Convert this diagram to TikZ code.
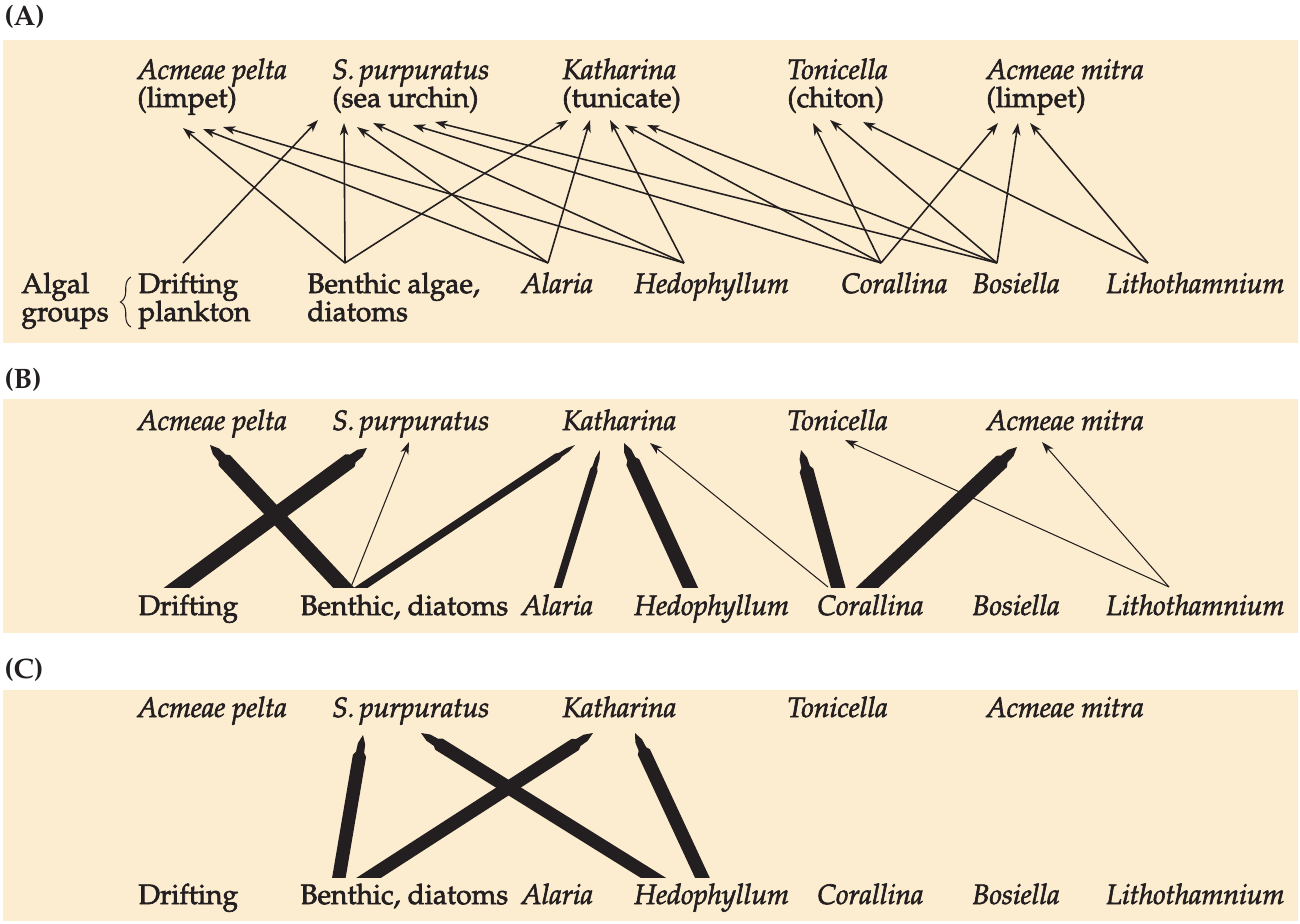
\documentclass[tikz,border=0pt]{standalone}
\usepackage[T1]{fontenc}
\usepackage{mathpazo}
\usetikzlibrary{arrows.meta,calc,decorations.pathreplacing}

\definecolor{panelbg}{RGB}{253,237,208}
\definecolor{ink}{RGB}{35,31,32}

\newcommand{\heavy}{\special{pdf:literal direct 2 Tr 0.35 w}}

\tikzset{
  lbl/.style={anchor=base west,inner sep=0pt,text=ink,font=\fontsize{16}{16}\selectfont\heavy},
  sp/.style={lbl,font=\fontsize{16}{16}\selectfont\itshape\heavy},
  tag/.style={lbl,font=\fontsize{16}{16}\selectfont\bfseries},
  feed/.style={draw=ink,line width=0.9pt,-{Stealth[length=7pt,width=4.8pt,inset=2pt]}},
  thinfeed/.style={feed,line width=0.6pt},
}

\newcommand{\fatarrow}[3]{%
  \path (#2) coordinate (fa-t) (#3) coordinate (fa-h);
  \fill[ink] ($(fa-t)!-8pt!(fa-h)!#1!90:(fa-h)$)
    -- ($(fa-h)!12pt!(fa-t)!#1!90:(fa-h)$)
    -- ($(fa-h)!10pt!(fa-t)!0.62*#1!90:(fa-h)$)
    -- ($(fa-h)!5pt!(fa-t)!0.55*#1!90:(fa-h)$)
    -- (fa-h)
    -- ($(fa-h)!5pt!(fa-t)!0.55*#1!-90:(fa-h)$)
    -- ($(fa-h)!10pt!(fa-t)!0.62*#1!-90:(fa-h)$)
    -- ($(fa-h)!12pt!(fa-t)!#1!-90:(fa-h)$)
    -- ($(fa-t)!-8pt!(fa-h)!#1!-90:(fa-h)$) -- cycle;}

\begin{document}
\begin{tikzpicture}[x=0.02cm,y=-0.02cm]
    \useasboundingbox (0,0) rectangle (1300,923);
    \fill[panelbg] (3,40) rectangle (1298,343);
    \fill[panelbg] (3,399) rectangle (1298,633);
    \fill[panelbg] (3,690) rectangle (1298,921);

    \node[tag] (pA) at (4,25) {(A)};
    \node[tag] (pB) at (4,388) {(B)};
    \node[tag] (pC) at (4,678) {(C)};

    \node[sp] (apA) at (137,79) {Acmeae pelta};
    \node[lbl] (apA2) at (137,107) {(limpet)};
    \node[sp] (spA) at (332,79) {S.\,purpuratus};
    \node[lbl] (spA2) at (332,107) {(sea urchin)};
    \node[sp] (kaA) at (562,79) {Katharina};
    \node[lbl] (kaA2) at (562,107) {(tunicate)};
    \node[sp] (toA) at (787,79) {Tonicella};
    \node[lbl] (toA2) at (787,107) {(chiton)};
    \node[sp] (amA) at (986,79) {Acmeae mitra};
    \node[lbl] (amA2) at (986,107) {(limpet)};

    \node[lbl] (algA) at (21,293) {Algal};
    \node[lbl] (grpA) at (21,321) {groups};
    \node[lbl] (drA) at (138,293) {Drifting};
    \node[lbl] (drA2) at (138,321) {plankton};
    \node[lbl] (beA) at (307,293) {Benthic algae,};
    \node[lbl] (beA2) at (307,321) {diatoms};
    \node[sp] (alA) at (521,293) {Alaria};
    \node[sp] (heA) at (634,293) {Hedophyllum};
    \node[sp] (coA) at (841,293) {Corallina};
    \node[sp] (boA) at (972,293) {Bosiella};
    \node[sp] (liA) at (1106,293) {Lithothamnium};
    \draw[ink,line width=0.6pt,decorate,decoration={brace,amplitude=6pt}]
      (131,327) -- (131,277);

    \foreach \s/\dx in {drA/45, beA/38, alA/27, heA/50, coA/40, boA/25, liA/42}
      \coordinate (\s-up) at ($(\s.base west)+(\dx,-30)$);
    \foreach \s/\t/\dx/\dy in
    {drA/spA2/-14/13, beA/apA2/46/21, beA/spA2/12/16, beA/kaA2/6/13,
     alA/apA2/66/22, alA/spA2/25/20, alA/kaA2/28/13,
     heA/apA2/86/20, heA/spA2/41/16, heA/kaA2/48/13,
     coA/spA2/81/18, coA/kaA2/63/18, coA/toA2/26/16, coA/amA2/12/16,
     boA/spA2/103/15, boA/kaA2/85/18, boA/toA2/43/13, boA/amA2/32/16,
     liA/toA2/76/15, liA/amA2/44/16}
    {
      \draw[feed] (\s-up) -- ($(\t.base west)+(\dx,\dy)$);
    }

    \foreach \p/\yt/\yb in {B/430/615, C/717/904}
    {
      \node[sp] (ap\p) at (137,\yt) {Acmeae pelta};
      \node[sp] (sp\p) at (332,\yt) {S.\,purpuratus};
      \node[sp] (ka\p) at (562,\yt) {Katharina};
      \node[sp] (to\p) at (787,\yt) {Tonicella};
      \node[sp] (am\p) at (986,\yt) {Acmeae mitra};
      \node[lbl] (dr\p) at (138,\yb) {Drifting};
      \node[lbl] (be\p) at (300,\yb) {Benthic, diatoms};
      \node[sp] (al\p) at (521,\yb) {Alaria};
      \node[sp] (he\p) at (634,\yb) {Hedophyllum};
      \node[sp] (co\p) at (817,\yb) {Corallina};
      \node[sp] (bo\p) at (972,\yb) {Bosiella};
      \node[sp] (li\p) at (1106,\yb) {Lithothamnium};
    }

    \begin{scope}
      \clip (3,399) rectangle (1298,587);
      \fatarrow{4.4pt}{$(beB.base west)+(43,-28)$}{$(apB.base west)+(73,15)$}
      \fatarrow{4.4pt}{$(drB.base west)+(40,-28)$}{$(spB.base west)+(35,18)$}
      \fatarrow{2.2pt}{$(beB.base west)+(62,-28)$}{$(kaB.base west)+(13,15)$}
      \fatarrow{2.2pt}{$(alB.base west)+(37,-28)$}{$(kaB.base west)+(38,20)$}
      \fatarrow{4pt}{$(heB.base west)+(56,-28)$}{$(kaB.base west)+(62,13)$}
      \fatarrow{4pt}{$(coB.base west)+(21,-28)$}{$(toB.base west)+(14,20)$}
      \fatarrow{4.4pt}{$(coB.base west)+(51,-28)$}{$(amB.base west)+(31,17)$}
    \end{scope}
    \foreach \s/\sx/\t/\dx/\dy in
    {beB/51/spB/77/12, coB/11/kaB/88/13, liB/63/toB/58/10, liB/63/amB/56/12}
    {
      \draw[thinfeed] ($(\s.base west)+(\sx,-28)$) -- ($(\t.base west)+(\dx,\dy)$);
    }

    \begin{scope}
      \clip (3,690) rectangle (1298,877);
      \fatarrow{3.8pt}{$(beC.base west)+(39,-27)$}{$(spC.base west)+(31,18)$}
      \fatarrow{3.8pt}{$(beC.base west)+(70,-27)$}{$(kaC.base west)+(31,16)$}
      \fatarrow{3.8pt}{$(heC.base west)+(18,-27)$}{$(spC.base west)+(89,16)$}
      \fatarrow{3.8pt}{$(heC.base west)+(68,-27)$}{$(kaC.base west)+(73,16)$}
    \end{scope}
\end{tikzpicture}
\end{document}
